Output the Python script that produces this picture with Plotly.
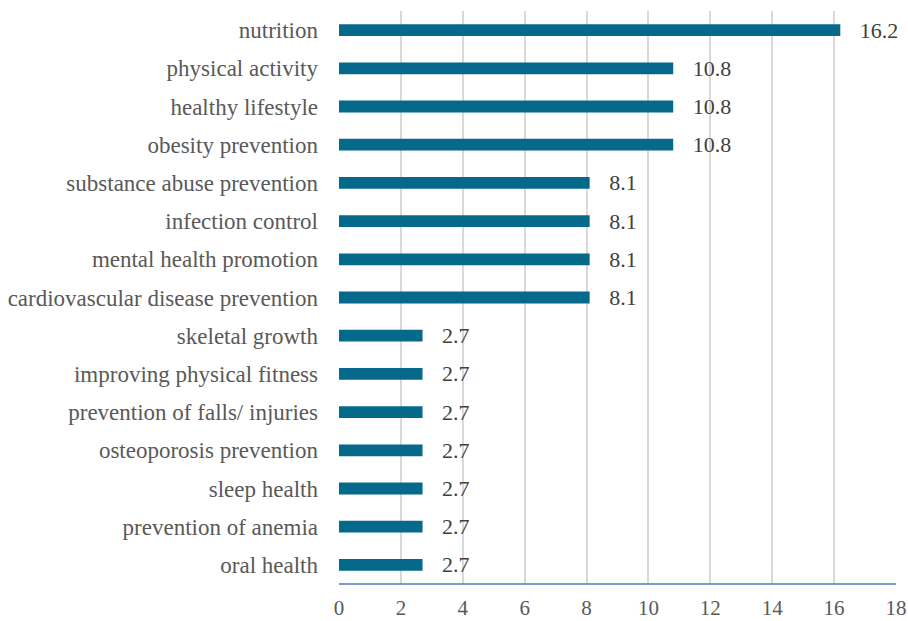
import plotly.graph_objects as go

categories = ["nutrition", "physical activity", "healthy lifestyle", "obesity prevention",
              "substance abuse prevention", "infection control", "mental health promotion",
              "cardiovascular disease prevention", "skeletal growth", "improving physical fitness",
              "prevention of falls/ injuries", "osteoporosis prevention", "sleep health",
              "prevention of anemia", "oral health"]
values = [16.2, 10.8, 10.8, 10.8, 8.1, 8.1, 8.1, 8.1, 2.7, 2.7, 2.7, 2.7, 2.7, 2.7, 2.7]
x_ticks = [0, 2, 4, 6, 8, 10, 12, 14, 16, 18]

FONT = "Liberation Serif"

fig = go.Figure(go.Bar(
    x=values, y=categories, orientation="h",
    marker=dict(color="#05698C", line=dict(width=0)),
    text=[f"   {v}" for v in values], textposition="outside",
    textfont=dict(family=FONT, size=22, color="#404040"),
    constraintext="none",
    cliponaxis=False,
))

fig.update_layout(
    width=908, height=621,
    margin=dict(l=339, r=12, t=11, b=37),
    paper_bgcolor="white", plot_bgcolor="white",
    bargap=0.69,
    showlegend=False,
    font=dict(family=FONT, size=22, color="#595959"),
    xaxis=dict(range=[0, 18], tickvals=x_ticks, showgrid=True, gridcolor="#D9D9D9", gridwidth=2,
               zeroline=False, showline=False, ticks="", automargin=False,
               tickfont=dict(family=FONT, size=21, color="#595959"),
               ticklabelstandoff=9),
    yaxis=dict(categoryorder="array", categoryarray=categories[::-1], showgrid=False,
               showline=False, ticks="", ticklabelstandoff=20, automargin=False,
               tickfont=dict(family=FONT, size=23, color="#595959")),
    shapes=[dict(type="line", xref="paper", yref="paper", x0=0, x1=1, y0=0, y1=0,
                 line=dict(color="#4A7EBB", width=1.5))],
)

fig.write_html("out.html")
